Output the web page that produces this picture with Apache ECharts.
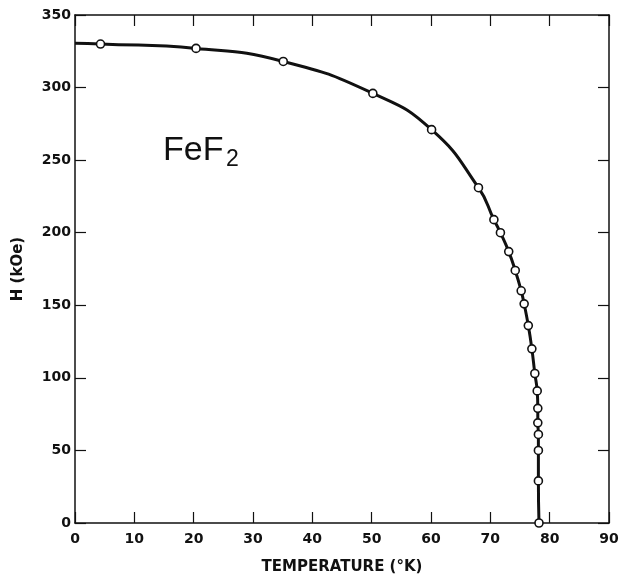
<!DOCTYPE html>
<html>
<head>
<meta charset="utf-8">
<script src="https://cdn.jsdelivr.net/npm/echarts@6/dist/echarts.min.js"></script>
<style>
  html, body { margin: 0; padding: 0; background: #fff; }
  #chart { width: 623px; height: 580px; }
</style>
</head>
<body>
<div id="chart"></div>
<script>
// 温度 (K) 和临界场 H (kOe)
const tempK = [4.3, 20.4, 35.1, 50.2, 60.1, 68.0, 70.6, 71.7, 73.1, 74.2, 75.2, 75.7,
  76.4, 77.0, 77.5, 77.9, 78.0, 78.0, 78.1, 78.1, 78.1, 78.2];
const fieldKOe = [330, 327, 318, 296, 271, 231, 209, 200, 187, 174, 160, 151,
  136, 120, 103, 91, 79, 69, 61, 50, 29, 0];
// 曲线从左边框开始
const curveStart = [0, 330.5];

const points = tempK.map((t, i) => [t, fieldKOe[i]]);
const curve = [curveStart].concat(points);

const fontFamily = 'DejaVu Sans';
const black = '#111';

const chart = echarts.init(document.getElementById('chart'));

const axisCommon = {
  type: 'value',
  axisLine: { show: true, onZero: false, lineStyle: { color: black, width: 1.5 } },
  axisTick: { show: true, inside: true, length: 11, lineStyle: { color: black, width: 1.2 } },
  splitLine: { show: false }
};

const option = {
  animation: false,
  backgroundColor: '#fff',
  title: [
    {
      text: 'FeF',
      left: 163, top: 134, padding: 0,
      textStyle: { fontFamily: 'Liberation Sans', fontSize: 34, fontWeight: 'normal', color: black }
    },
    {
      text: '2',
      left: 226, top: 148, padding: 0,
      textStyle: { fontFamily: 'Liberation Sans', fontSize: 23, fontWeight: 'normal', color: black }
    }
  ],
  grid: { left: 75, right: 14, top: 15, bottom: 53 },
  xAxis: [
    Object.assign({}, axisCommon, {
      position: 'bottom',
      min: 0, max: 90, interval: 10,
      name: 'TEMPERATURE (°K)',
      nameLocation: 'middle',
      nameGap: 37,
      nameTextStyle: { fontFamily: fontFamily, fontSize: 15, fontWeight: 'bold', color: black },
      axisLabel: { margin: 9, fontFamily: fontFamily, fontSize: 14, fontWeight: 'bold', color: black }
    }),
    Object.assign({}, axisCommon, {
      position: 'top',
      min: 0, max: 90, interval: 10,
      axisLabel: { show: false }
    })
  ],
  yAxis: [
    Object.assign({}, axisCommon, {
      position: 'left',
      min: 0, max: 350, interval: 50,
      name: 'H (kOe)',
      nameLocation: 'middle',
      nameRotate: 90,
      nameGap: 49,
      nameTextStyle: { fontFamily: fontFamily, fontSize: 15, fontWeight: 'bold', color: black },
      axisLabel: { margin: 4, fontFamily: fontFamily, fontSize: 14, fontWeight: 'bold', color: black }
    }),
    Object.assign({}, axisCommon, {
      position: 'right',
      min: 0, max: 350, interval: 50,
      axisLabel: { show: false }
    })
  ],
  series: [
    {
      name: 'fit',
      type: 'line',
      data: curve,
      smooth: 0.5,
      showSymbol: false,
      lineStyle: { color: black, width: 3 },
      z: 2
    },
    {
      name: 'data',
      type: 'scatter',
      data: points,
      symbol: 'circle',
      symbolSize: 8,
      itemStyle: { color: '#fff', opacity: 1, borderColor: black, borderWidth: 1.6 },
      z: 3
    }
  ]
};

chart.setOption(option);
</script>
</body>
</html>
